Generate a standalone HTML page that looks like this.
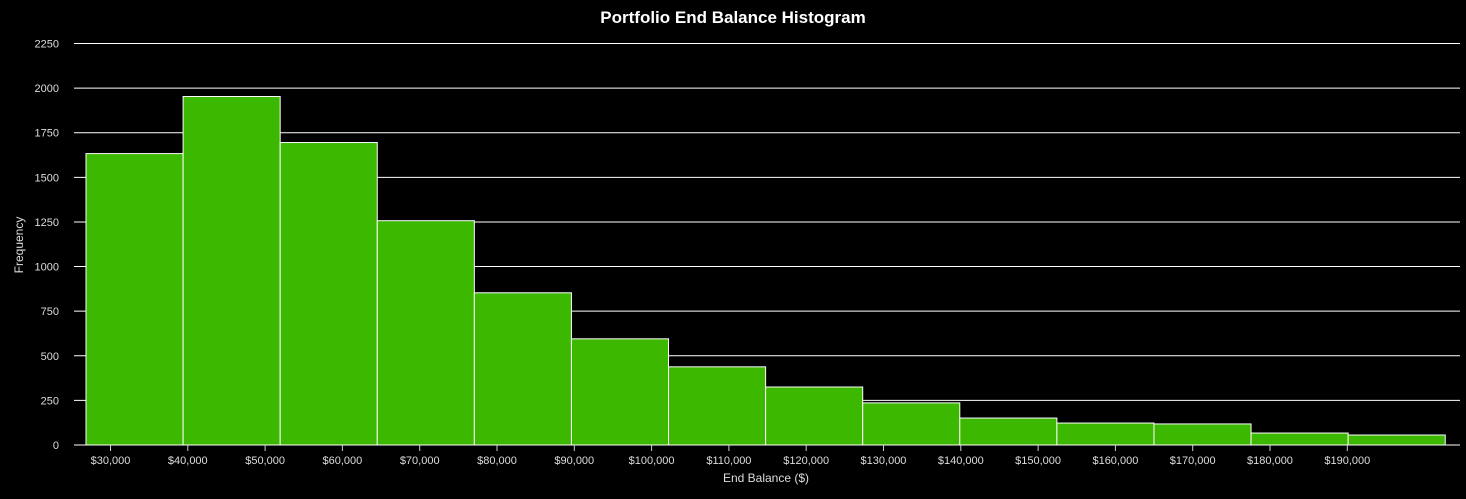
<!DOCTYPE html>
<html><head><meta charset="utf-8"><style>
body{margin:0;background:#000;}
svg text{font-family:"Liberation Sans",sans-serif;}
</style></head><body>
<svg id="chart" width="1466" height="494">
<text x="733" y="23" text-anchor="middle" fill="#fff" font-size="17" font-weight="bold">Portfolio End Balance Histogram</text>
<g id="grid"></g><g id="bars"></g><g id="axes"></g>
<text x="766" y="482" text-anchor="middle" fill="#ddd" font-size="12">End Balance ($)</text>
<text transform="translate(23,245) rotate(-90)" text-anchor="middle" fill="#ddd" font-size="12">Frequency</text>
</svg>
<script>
const binStart = 26830;
const binWidth = 12560;
const counts = [1633, 1953, 1695, 1257, 853, 595, 438, 325, 236, 151, 123, 118, 67, 56];
const yTicks = [0, 250, 500, 750, 1000, 1250, 1500, 1750, 2000, 2250];
const xTicks = [30000, 40000, 50000, 60000, 70000, 80000, 90000, 100000, 110000, 120000, 130000, 140000, 150000, 160000, 170000, 180000, 190000];
const NS = "http://www.w3.org/2000/svg";
const X = v => 110.5 + (v - 30000) / 10000 * 77.3;
const Y = v => 445 - v / 2250 * 401.5;
function mk(tag, attrs, parent) { const e = document.createElementNS(NS, tag); for (const k in attrs) e.setAttribute(k, attrs[k]); parent.appendChild(e); return e; }
const grid = document.getElementById('grid'), bars = document.getElementById('bars'), axes = document.getElementById('axes');
yTicks.forEach(t => {
  if (t > 0) {
    const l = mk('line', {x1: 74, x2: 1460, y1: Y(t), y2: Y(t), stroke: '#fff', 'stroke-width': 1}, grid);
    
    
  }
  const tx = mk('text', {x: 59, y: Y(t) + 4, 'text-anchor': 'end', fill: '#ddd', 'font-size': 11}, axes);
  tx.textContent = t;
  
  
});
counts.forEach((c, i) => {
  const x0 = X(binStart + i * binWidth), x1 = X(binStart + (i + 1) * binWidth);
  const r = mk('rect', {x: x0, y: Y(c), width: x1 - x0, height: Y(0) - Y(c), fill: '#3cb800', stroke: '#fff', 'stroke-width': 1}, bars);
  
  
});
const ax = mk('line', {x1: 74, x2: 1460, y1: 445, y2: 445, stroke: '#fff', 'stroke-width': 1}, axes);


xTicks.forEach(t => {
  const tk = mk('line', {x1: X(t), x2: X(t), y1: 445, y2: 451, stroke: '#ccd', 'stroke-width': 1}, axes);
  
  
  const tx = mk('text', {x: X(t), y: 464, 'text-anchor': 'middle', fill: '#ddd', 'font-size': 11}, axes);
  tx.textContent = '$' + t.toLocaleString('en-US');
  
  
});
</script>
</body></html>
